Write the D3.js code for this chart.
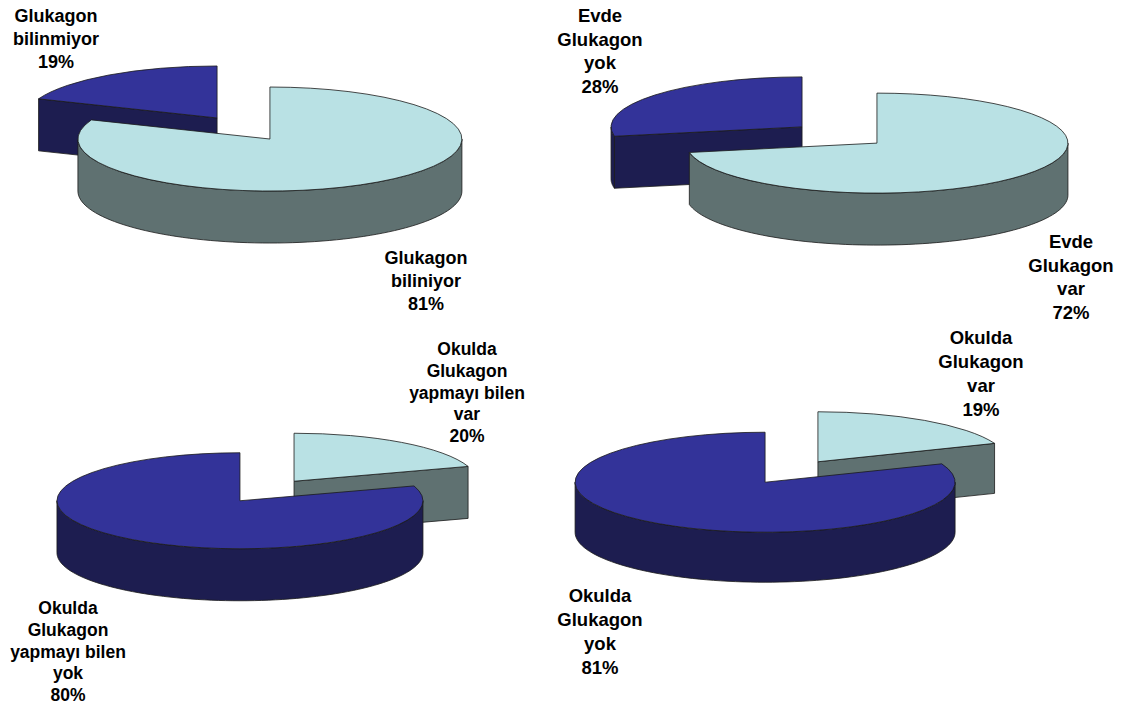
<!DOCTYPE html>
<html>
<head>
<meta charset="utf-8">
<script src="https://cdn.jsdelivr.net/npm/d3@7"></script>
<style>
  html, body { margin: 0; padding: 0; background: #ffffff; }
  svg { display: block; }
</style>
</head>
<body>
<svg id="chart" width="1137" height="706"></svg>
<script>
// --- data -------------------------------------------------------------
const knowsLabels = [["Glukagon", "biliniyor"], ["Glukagon", "bilinmiyor"]];
const knowsValues = [81, 19];

const homeLabels = [["Evde", "Glukagon", "var"], ["Evde", "Glukagon", "yok"]];
const homeValues = [72, 28];

const schoolSkillLabels = [["Okulda", "Glukagon", "yapmayı bilen", "var"], ["Okulda", "Glukagon", "yapmayı bilen", "yok"]];
const schoolSkillValues = [20, 80];

const schoolStockLabels = [["Okulda", "Glukagon", "var"], ["Okulda", "Glukagon", "yok"]];
const schoolStockValues = [19, 81];

// --- styling -----------------------------------------------------------
const topColors  = ["#b9e1e4", "#333399"];
const sideColors = ["#5f7171", "#1d1d50"];
const edgeColor  = "#1a1a1a";

// --- layout of the four 3D pies ----------------------------------------
const charts = [
  { labels: knowsLabels, values: knowsValues,
    cx: 243.5, cy: 128.5, rx: 192, ry: 52, depth: 52, explode: 47,
    labelPos: [[426, 264], [56, 22]], fontSize: 18, lineHeight: 23 },
  { labels: homeLabels, values: homeValues,
    cx: 839.5, cy: 135, rx: 191, ry: 50, depth: 52, explode: 48.6,
    labelPos: [[1071, 248], [600, 22]], fontSize: 18.5, lineHeight: 23.7 },
  { labels: schoolSkillLabels, values: schoolSkillValues,
    cx: 267, cy: 491, rx: 183, ry: 48, depth: 52, explode: 46,
    labelPos: [[467, 355], [68, 614]], fontSize: 17.5, lineHeight: 21.8 },
  { labels: schoolStockLabels, values: schoolStockValues,
    cx: 791.5, cy: 472, rx: 190, ry: 50, depth: 50, explode: 47,
    labelPos: [[981, 344], [600, 602]], fontSize: 18.5, lineHeight: 24 }
];

const svg = d3.select("#chart");
const pie = d3.pie().sort(null).value(d => d);
const line = d3.line();

charts.forEach(ch => {
  const g = svg.append("g");
  const k = ch.ry / ch.rx;
  const arcs = pie(ch.values).map((a, i) => {
    const mid = (a.startAngle + a.endAngle) / 2;
    const ox = ch.cx + ch.explode * Math.sin(mid);
    const oy = ch.cy - ch.explode * k * Math.cos(mid);
    return { ...a, i, ox, oy };
  });

  const topArc = d3.arc().innerRadius(0).outerRadius(ch.rx);

  // paint slices from back to front
  arcs.slice().sort((a, b) => a.oy - b.oy).forEach(s => {
    const pt = (ang, z) => [s.ox + ch.rx * Math.sin(ang), s.oy - ch.ry * Math.cos(ang) + z];
    const sg = g.append("g");

    // radial cut faces that face the viewer
    [[s.startAngle, Math.sin(s.startAngle) < -1e-6], [s.endAngle, Math.sin(s.endAngle) > 1e-6]]
      .filter(d => d[1])
      .forEach(([ang]) => {
        const poly = [[s.ox, s.oy], pt(ang, 0), pt(ang, ch.depth), [s.ox, s.oy + ch.depth]];
        sg.append("path")
          .attr("d", line(poly) + "Z")
          .attr("fill", sideColors[s.i])
          .attr("stroke", edgeColor).attr("stroke-width", 0.8)
          .attr("stroke-linejoin", "round");
      });

    // outer wall on the front half of the rim
    const lo = Math.max(s.startAngle, Math.PI / 2);
    const hi = Math.min(s.endAngle, 3 * Math.PI / 2);
    if (hi > lo) {
      const steps = 80;
      const angs = d3.range(steps + 1).map(j => lo + (hi - lo) * j / steps);
      const pts = angs.map(a => pt(a, 0)).concat(angs.slice().reverse().map(a => pt(a, ch.depth)));
      sg.append("path")
        .attr("d", line(pts) + "Z")
        .attr("fill", sideColors[s.i])
        .attr("stroke", edgeColor).attr("stroke-width", 0.8)
        .attr("stroke-linejoin", "round");
    }

    // top face
    sg.append("path")
      .attr("d", topArc(s))
      .attr("transform", `translate(${s.ox},${s.oy}) scale(1,${k})`)
      .attr("fill", topColors[s.i])
      .attr("stroke", edgeColor).attr("stroke-width", 0.8)
      .attr("vector-effect", "non-scaling-stroke")
      .attr("stroke-linejoin", "round");
  });

  // data labels
  arcs.forEach(s => {
    const [lx, ly] = ch.labelPos[s.i];
    const lines = ch.labels[s.i].concat([ch.values[s.i] + "%"]);
    const t = g.append("text")
      .attr("text-anchor", "middle")
      .attr("font-family", "'Liberation Sans', Arial, sans-serif")
      .attr("font-weight", "bold")
      .attr("font-size", ch.fontSize)
      .attr("fill", "#000");
    lines.forEach((txt, j) => {
      t.append("tspan").attr("x", lx).attr("y", ly + j * ch.lineHeight).text(txt);
    });
  });
});
</script>
</body>
</html>
